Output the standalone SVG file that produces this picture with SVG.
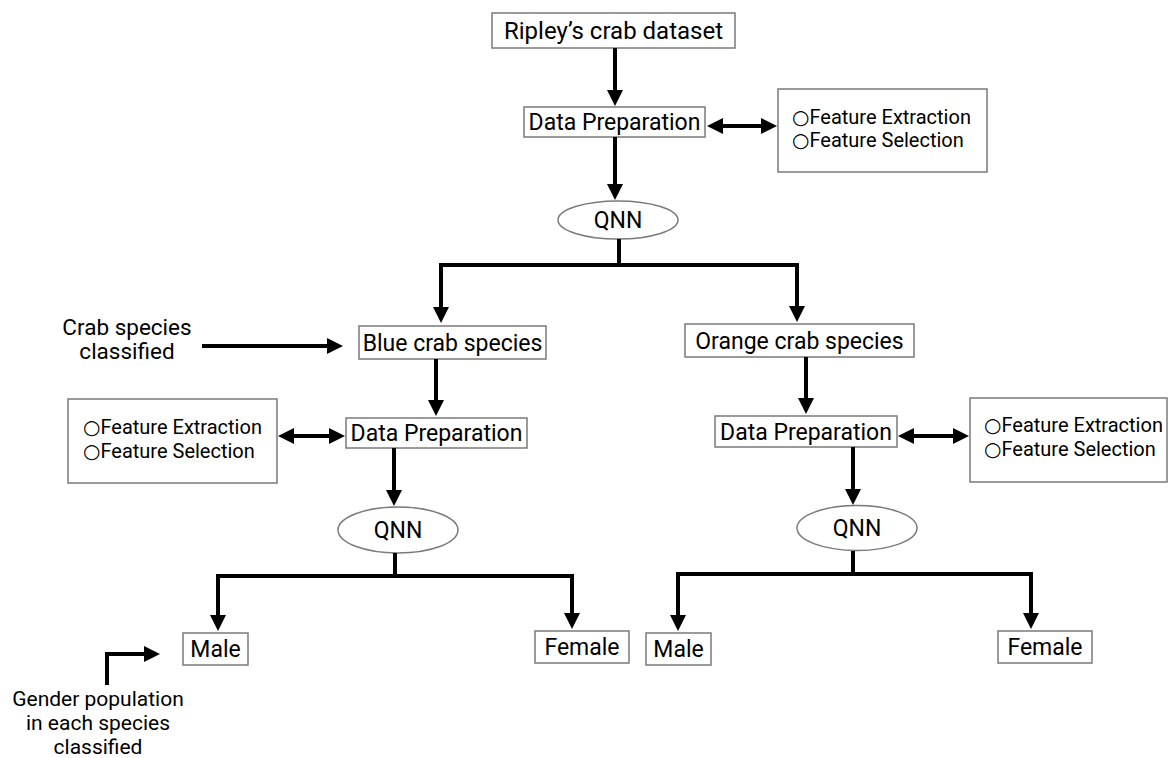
<svg xmlns="http://www.w3.org/2000/svg" width="1170" height="758" viewBox="0 0 1170 758">
<style>
.box{fill:#fff;stroke:#7a7a7a;stroke-width:1.5}
.lbl{font-family:Roboto,"Liberation Sans","DejaVu Sans",sans-serif;font-size:23px;fill:#000;text-anchor:middle}
.feat{font-family:Roboto,"DejaVu Sans","Liberation Sans",sans-serif;font-size:20px;fill:#000}
.note{font-family:Roboto,"Liberation Sans",sans-serif;fill:#000;text-anchor:middle}
.conn path{fill:none;stroke:#000;stroke-width:4;stroke-linejoin:miter;stroke-linecap:butt}
</style>
<defs>
<marker id="ah" markerUnits="userSpaceOnUse" markerWidth="16" markerHeight="16" refX="6" refY="8" orient="auto-start-reverse">
<path d="M0,0 L16,8 L0,16 z" fill="#000"/>
</marker>
</defs>
<rect width="1170" height="758" fill="#fff"/>

<g id="n-dataset"><rect class="box" x="492" y="13" width="243" height="35"/><text class="lbl" x="613.5" y="39" style="font-size:24px">Ripley’s crab dataset</text></g>
<g id="n-dp1"><rect class="box" x="524" y="107" width="181" height="30"/><text class="lbl" x="614.5" y="130">Data Preparation</text></g>
<g id="n-feat1"><rect class="box" x="778" y="89" width="209" height="83"/><text class="feat" x="792" y="124">○Feature Extraction</text><text class="feat" x="792" y="147">○Feature Selection</text></g>
<g id="n-qnn1"><ellipse class="box" cx="618" cy="220" rx="60" ry="19"/><text class="lbl" x="618" y="228">QNN</text></g>
<g id="n-blue"><rect class="box" x="359" y="326" width="187" height="33"/><text class="lbl" x="452.5" y="351">Blue crab species</text></g>
<g id="n-orange"><rect class="box" x="685" y="324" width="229" height="33"/><text class="lbl" x="799.5" y="349">Orange crab species</text></g>
<g id="n-crablabel"><text class="note" x="127" y="335" style="font-size:22.5px">Crab species</text><text class="note" x="127" y="359" style="font-size:22.5px">classified</text></g>
<g id="n-dp-blue"><rect class="box" x="346" y="418" width="181" height="30"/><text class="lbl" x="436.5" y="441">Data Preparation</text></g>
<g id="n-feat-blue"><rect class="box" x="68" y="399" width="209" height="84"/><text class="feat" x="83" y="434">○Feature Extraction</text><text class="feat" x="83" y="458">○Feature Selection</text></g>
<g id="n-dp-orange"><rect class="box" x="715" y="416" width="182" height="31"/><text class="lbl" x="806" y="440">Data Preparation</text></g>
<g id="n-feat-orange"><rect class="box" x="970" y="398" width="197" height="84"/><text class="feat" x="984" y="432">○Feature Extraction</text><text class="feat" x="984" y="456">○Feature Selection</text></g>
<g id="n-qnn-blue"><ellipse class="box" cx="398" cy="530" rx="60" ry="23"/><text class="lbl" x="398" y="538">QNN</text></g>
<g id="n-qnn-orange"><ellipse class="box" cx="857" cy="528" rx="60" ry="22.5"/><text class="lbl" x="857" y="536">QNN</text></g>
<g id="n-male-blue"><rect class="box" x="183" y="633" width="65" height="32"/><text class="lbl" x="215.5" y="657">Male</text></g>
<g id="n-female-blue"><rect class="box" x="535" y="631" width="94" height="32"/><text class="lbl" x="582" y="655">Female</text></g>
<g id="n-male-orange"><rect class="box" x="646" y="633" width="65" height="32"/><text class="lbl" x="678.5" y="657">Male</text></g>
<g id="n-female-orange"><rect class="box" x="998" y="631" width="94" height="32"/><text class="lbl" x="1045" y="655">Female</text></g>
<g id="n-genderlabel"><text class="note" x="98" y="706" style="font-size:21px">Gender population</text><text class="note" x="98" y="730" style="font-size:21px">in each species</text><text class="note" x="98" y="754" style="font-size:21px">classified</text></g>

<g id="connectors" class="conn">
<path d="M615,48 V96" marker-end="url(#ah)"/>
<path d="M717,126 H767" marker-start="url(#ah)" marker-end="url(#ah)"/>
<path d="M615,137 V190" marker-end="url(#ah)"/>
<path d="M619,239 V265"/>
<path d="M619,265 H441 V313" marker-end="url(#ah)"/>
<path d="M619,265 H797 V312" marker-end="url(#ah)"/>
<path d="M202,346 H333" marker-end="url(#ah)"/>
<path d="M436,359 V406" marker-end="url(#ah)"/>
<path d="M288,436 H335" marker-start="url(#ah)" marker-end="url(#ah)"/>
<path d="M394,448 V496" marker-end="url(#ah)"/>
<path d="M395,553 V576"/>
<path d="M395,576 H218 V621" marker-end="url(#ah)"/>
<path d="M395,576 H572 V619" marker-end="url(#ah)"/>
<path d="M806,357 V404" marker-end="url(#ah)"/>
<path d="M908,436 H959" marker-start="url(#ah)" marker-end="url(#ah)"/>
<path d="M853,447 V495" marker-end="url(#ah)"/>
<path d="M853,551 V574"/>
<path d="M853,574 H678 V621" marker-end="url(#ah)"/>
<path d="M853,574 H1031 V619" marker-end="url(#ah)"/>
<path d="M107,685 V654 H150" marker-end="url(#ah)"/>
</g>
</svg>
